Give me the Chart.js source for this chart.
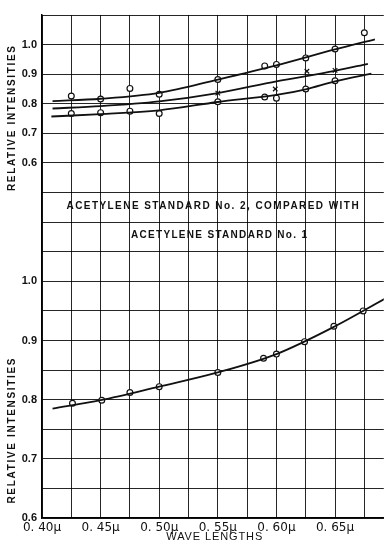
<!DOCTYPE html>
<html>
<head>
<meta charset="utf-8">
<script src="https://cdn.jsdelivr.net/npm/chart.js@4.4.1/dist/chart.umd.min.js"></script>
<style>
  html, body { margin: 0; padding: 0; background: #fff; }
  canvas { display: block; }
</style>
</head>
<body>
<canvas id="chart" width="389" height="550"></canvas>
<script>
// ── 상단 패널: 측정점 (파장 μ / 상대 강도) ──
const upperWave = [0.425, 0.45, 0.475, 0.50, 0.55, 0.59, 0.60, 0.625, 0.65, 0.675];
const upperVals = [0.826, 0.816, 0.852, 0.832, 0.882, 0.928, 0.933, 0.955, 0.985, 1.040];
const crossWave = [0.55, 0.599, 0.626, 0.65];
const crossVals = [0.836, 0.850, 0.910, 0.913];
const lowerWave = [0.425, 0.45, 0.475, 0.50, 0.55, 0.59, 0.60, 0.625, 0.65];
const lowerVals = [0.767, 0.770, 0.775, 0.767, 0.807, 0.823, 0.819, 0.850, 0.878];

// 상단 패널: 손으로 그린 곡선
const upperCurveWave = [0.409, 0.45, 0.50, 0.55, 0.60, 0.65, 0.684];
const upperCurveVals = [0.809, 0.817, 0.837, 0.882, 0.930, 0.984, 1.018];
const middleCurveWave = [0.409, 0.45, 0.50, 0.55, 0.60, 0.65, 0.678];
const middleCurveVals = [0.784, 0.792, 0.808, 0.836, 0.876, 0.911, 0.935];
const lowerCurveWave = [0.408, 0.45, 0.50, 0.55, 0.60, 0.625, 0.65, 0.681];
const lowerCurveVals = [0.757, 0.765, 0.778, 0.806, 0.830, 0.849, 0.876, 0.902];

// ── 하단 패널: No.2 vs No.1 ──
const std2Wave = [0.426, 0.451, 0.475, 0.50, 0.55, 0.589, 0.60, 0.624, 0.649, 0.674];
const std2Vals = [0.794, 0.799, 0.812, 0.822, 0.846, 0.870, 0.877, 0.898, 0.924, 0.950];
const std2CurveWave = [0.409, 0.45, 0.50, 0.55, 0.60, 0.65, 0.692];
const std2CurveVals = [0.785, 0.799, 0.822, 0.846, 0.877, 0.924, 0.970];

// 눈금 라벨
const waveTicks = [0.40, 0.45, 0.50, 0.55, 0.60, 0.65];
const topTicks = [0.6, 0.7, 0.8, 0.9, 1.0];
const bottomTicks = [0.6, 0.7, 0.8, 0.9, 1.0];

// 두 패널은 같은 격자를 공유 (하단: 0.05/칸, 상단: 0.1/칸)
const BOT_MIN = 0.6, BOT_MAX = 1.45, BOT_STEP = 0.05;
const TOP_MIN = -0.6, TOP_MAX = 1.1, TOP_STEP = 0.1;

const pts = (xs, ys) => xs.map((x, i) => ({ x: x, y: ys[i] }));
const near = (list, v) => list.some(t => Math.abs(t - v) < 1e-6);

const curve = (xs, ys, axis) => ({
    data: pts(xs, ys),
    yAxisID: axis,
    borderColor: '#111',
    borderWidth: 1.8,
    pointRadius: 0,
    cubicInterpolationMode: 'monotone',
    showLine: true,
    fill: false
});
const marks = (xs, ys, axis, style) => ({
    data: pts(xs, ys),
    yAxisID: axis,
    showLine: false,
    pointStyle: style,
    pointRadius: style === 'circle' ? 2.9 : 3.2,
    pointBackgroundColor: '#fff',
    pointBorderColor: '#111',
    pointBorderWidth: 1.2
});

// 텍스트 (제목, 축 이름)
const labelsPlugin = {
    id: 'labels',
    afterDraw(chart) {
        const { ctx, scales: { x, y, yTop } } = chart;
        ctx.save();
        ctx.fillStyle = '#111';
        ctx.textAlign = 'center';
        ctx.textBaseline = 'middle';

        const spaced = (text, cx, cy, width) => {
            ctx.letterSpacing = '0px';
            const w = ctx.measureText(text).width;
            const sp = Math.max(0, (width - w) / (text.length - 1));
            ctx.letterSpacing = sp.toFixed(2) + 'px';
            ctx.fillText(text, cx + sp / 2, cy);
        };

        ctx.font = 'bold 10px "Liberation Sans", Arial, sans-serif';
        spaced('ACETYLENE STANDARD No. 2, COMPARED WITH', x.getPixelForValue(0.5455), y.getPixelForValue(1.127), 292);
        spaced('ACETYLENE STANDARD No. 1', x.getPixelForValue(0.551), y.getPixelForValue(1.078), 176);

        ctx.font = '11px "Liberation Sans", Arial, sans-serif';
        spaced('WAVE LENGTHS', x.getPixelForValue(0.547), 537, 96);

        // 세로 축 이름 (두 패널)
        [[yTop, 0.75], [y, 0.747]].forEach(([scale, v]) => {
            ctx.save();
            ctx.translate(12, scale.getPixelForValue(v));
            ctx.rotate(-Math.PI / 2);
            ctx.font = 'bold 10px "Liberation Sans", Arial, sans-serif';
            spaced('RELATIVE INTENSITIES', 0, 0, 145);
            ctx.restore();
        });
        ctx.restore();
    }
};

new Chart(document.getElementById('chart'), {
    type: 'scatter',
    data: {
        datasets: [
            curve(upperCurveWave, upperCurveVals, 'yTop'),
            curve(middleCurveWave, middleCurveVals, 'yTop'),
            curve(lowerCurveWave, lowerCurveVals, 'yTop'),
            marks(upperWave, upperVals, 'yTop', 'circle'),
            marks(lowerWave, lowerVals, 'yTop', 'circle'),
            marks(crossWave, crossVals, 'yTop', 'crossRot'),
            curve(std2CurveWave, std2CurveVals, 'y'),
            marks(std2Wave, std2Vals, 'y', 'circle')
        ]
    },
    options: {
        responsive: false,
        animation: false,
        layout: { padding: { top: 15, left: 0, right: 0, bottom: 0 } },
        plugins: { legend: { display: false }, tooltip: { enabled: false } },
        scales: {
            x: {
                type: 'linear',
                min: 0.40,
                max: 0.6916,
                grid: { color: 'rgba(0,0,0,0.85)', lineWidth: 1, drawTicks: false },
                border: { color: '#000', width: 1.5 },
                ticks: {
                    stepSize: 0.025,
                    includeBounds: false,
                    autoSkip: false,
                    maxRotation: 0,
                    padding: 3,
                    color: '#111',
                    font: { family: '"DejaVu Sans", sans-serif', size: 12 },
                    callback: (v) => near(waveTicks, v) ? v.toFixed(2).replace('.', '. ') + 'μ' : ''
                },
                afterFit: (scale) => { scale.height = 32; }
            },
            y: {
                position: 'left',
                min: BOT_MIN,
                max: BOT_MAX,
                grid: { color: 'rgba(0,0,0,0.85)', lineWidth: 1, drawTicks: false },
                border: { color: '#000', width: 1.5 },
                ticks: {
                    stepSize: BOT_STEP,
                    autoSkip: false,
                    padding: 5,
                    color: '#111',
                    font: { family: '"Liberation Sans", Arial, sans-serif', size: 11, weight: 'bold' },
                    callback: (v) => {
                        const k = Math.round((v - BOT_MIN) / BOT_STEP);
                        if (near(bottomTicks, v)) return v.toFixed(1);
                        const t = TOP_MIN + k * TOP_STEP;
                        return near(topTicks, Math.round(t * 100) / 100) ? t.toFixed(1) : '';
                    }
                },
                afterFit: (scale) => { scale.width = 42; }
            },
            yTop: {
                position: 'left',
                display: false,
                min: TOP_MIN,
                max: TOP_MAX
            }
        }
    },
    plugins: [labelsPlugin]
});
</script>
</body>
</html>
